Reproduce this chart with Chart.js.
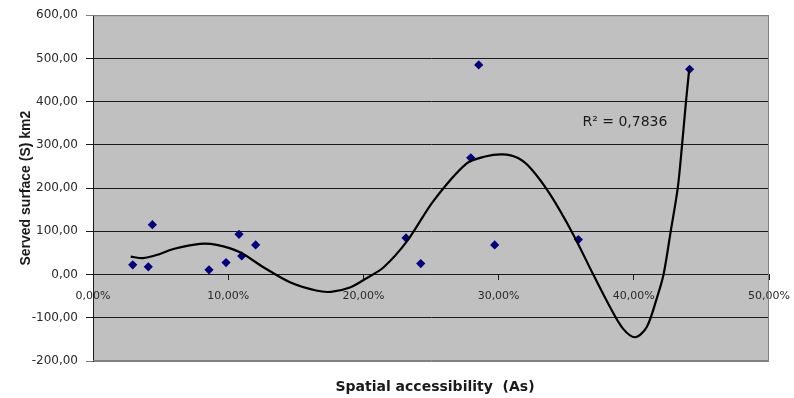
<!DOCTYPE html>
<html>
<head>
<meta charset="utf-8">
<title>Served surface vs spatial accessibility</title>
<script src="https://cdn.jsdelivr.net/npm/chart.js@4/dist/chart.umd.min.js"></script>
<style>
  html, body { margin: 0; padding: 0; background: #fff; }
  canvas { display: block; }
</style>
</head>
<body>
<canvas id="chart" width="794" height="398"></canvas>
<script>
// observed points: spatial accessibility (%) vs served surface (km2)
var ACCESS_PCT = [2.94, 4.09, 4.39, 8.58, 9.84, 10.80, 11.00, 12.03, 23.15, 24.24, 27.94, 28.53, 29.71, 35.90, 44.13];
var SURFACE_KM2 = [22.4, 17.8, 115.5, 10.9, 27.7, 93.1, 43.2, 68.6, 84.8, 25.4, 270, 485, 68.6, 80.8, 475];

// polynomial trend line
var TREND_X = [2.79, 3.7, 4.9, 5.94, 7.91, 9.15, 10.87, 12.6, 14.57, 16.5, 17.6, 19.0, 20.2, 21.5, 23.2, 25.2, 27.6, 29.0, 30.3, 31.4, 32.4, 33.8, 35.5, 37.0, 38.24, 39.2, 40.1, 40.95, 41.7, 42.2, 42.73, 43.25, 43.57, 43.86, 44.1];
var TREND_Y = [41.6, 38, 47, 59, 71, 68.6, 51.5, 16.9, -17.8, -37, -40, -30, -9, 16.9, 76, 171, 256, 273, 278, 270, 245, 186, 94, 0, -75, -125, -145, -122, -55, 0, 100, 200, 300, 400, 475];

var Y_TICKS = { min: -200, max: 600, step: 100 };
var X_TICKS = { min: 0, max: 50, step: 10 };

var R2_LABEL = 'R\u00b2 = 0,7836';
var R2_AT = { x: 36.2, y: 353 };

var X_TITLE = 'Spatial accessibility  (As)';
var Y_TITLE = 'Served surface (S) km2';

var FONT = "'Liberation Sans', Arial, sans-serif";
var FONT_WIDE = "'DejaVu Sans', Verdana, sans-serif";

function comma(v, digits) {
  return v.toFixed(digits).replace('.', ',');
}

function pairs(xs, ys) {
  return xs.map(function (x, i) {
    return { x: x, y: ys[i] };
  });
}

var plotFrame = {
  id: 'plotFrame',
  beforeDraw: function (chart) {
    var a = chart.chartArea;
    var ctx = chart.ctx;
    ctx.save();
    ctx.fillStyle = '#c0c0c0';
    ctx.fillRect(a.left, a.top, a.right - a.left, a.bottom - a.top);
    ctx.restore();
  },
  beforeDatasetsDraw: function (chart) {
    var a = chart.chartArea;
    var ctx = chart.ctx;
    ctx.save();
    ctx.strokeStyle = '#808080';
    ctx.lineWidth = 1;
    ctx.beginPath();
    ctx.moveTo(a.left, a.top + 0.5);
    ctx.lineTo(a.right - 0.5, a.top + 0.5);
    ctx.lineTo(a.right - 0.5, a.bottom - 0.5);
    ctx.lineTo(a.left, a.bottom - 0.5);
    ctx.stroke();
    ctx.restore();
  },
  afterDatasetsDraw: function (chart) {
    var ctx = chart.ctx;
    var a = chart.chartArea;
    var x = chart.scales.x.getPixelForValue(R2_AT.x);
    var y = chart.scales.y.getPixelForValue(R2_AT.y);
    ctx.save();
    ctx.font = '14px ' + FONT_WIDE;
    ctx.fillStyle = '#1a1a1a';
    ctx.textAlign = 'left';
    ctx.textBaseline = 'middle';
    ctx.fillText(R2_LABEL, x, y);
    // x axis title, centred under the plot
    ctx.font = 'bold 14px ' + FONT_WIDE;
    ctx.textAlign = 'center';
    ctx.fillText(X_TITLE, (a.left + a.right) / 2 + 4, a.bottom + 26);
    ctx.restore();
  },
};

new Chart(document.getElementById('chart').getContext('2d'), {
  type: 'scatter',
  data: {
    datasets: [
      {
        label: 'trend',
        data: pairs(TREND_X, TREND_Y),
        showLine: true,
        borderColor: '#000',
        borderWidth: 2.2,
        pointRadius: 0,
        tension: 0.3,
        order: 0,
      },
      {
        label: 'S',
        data: pairs(ACCESS_PCT, SURFACE_KM2),
        pointStyle: 'rectRot',
        pointRadius: 4.6,
        backgroundColor: '#000080',
        borderColor: '#000080',
        borderWidth: 0,
        order: 1,
      },
    ],
  },
  options: {
    responsive: false,
    animation: false,
    layout: { padding: { top: 15, right: 25, left: 0, bottom: 37 } },
    scales: {
      x: {
        type: 'linear',
        position: { y: 0 },
        min: X_TICKS.min,
        max: X_TICKS.max,
        // labels may hang over the plot edges without shrinking it
        afterFit: function (scale) {
          scale.paddingLeft = 0;
          scale.paddingRight = 0;
        },
        border: { display: true, color: '#1a1a1a' },
        grid: { drawOnChartArea: false, tickLength: 5, color: '#1a1a1a' },
        ticks: {
          stepSize: X_TICKS.step,
          padding: 10,
          color: '#2a2a2a',
          font: { family: FONT_WIDE, size: 11 },
          callback: function (v) {
            return comma(v, 2) + '%';
          },
        },
      },
      y: {
        min: Y_TICKS.min,
        max: Y_TICKS.max,
        afterFit: function (scale) {
          scale.width = 93;
        },
        border: { display: true, color: '#1a1a1a' },
        grid: {
          tickLength: 7,
          color: function (c) {
            if (c.tick && (c.tick.value === Y_TICKS.max || c.tick.value === Y_TICKS.min)) return '#808080';
            return '#1a1a1a';
          },
        },
        ticks: {
          stepSize: Y_TICKS.step,
          padding: 8,
          color: '#2a2a2a',
          font: { family: FONT_WIDE, size: 12 },
          callback: function (v) {
            return comma(v, 2);
          },
        },
        title: {
          display: true,
          text: Y_TITLE,
          color: '#1a1a1a',
          font: { family: FONT, size: 14, weight: 'bold' },
          padding: { top: 18, bottom: 0 },
        },
      },
    },
    plugins: {
      legend: { display: false },
      tooltip: { enabled: false },
      title: { display: false },
    },
  },
  plugins: [plotFrame],
});
</script>
</body>
</html>
